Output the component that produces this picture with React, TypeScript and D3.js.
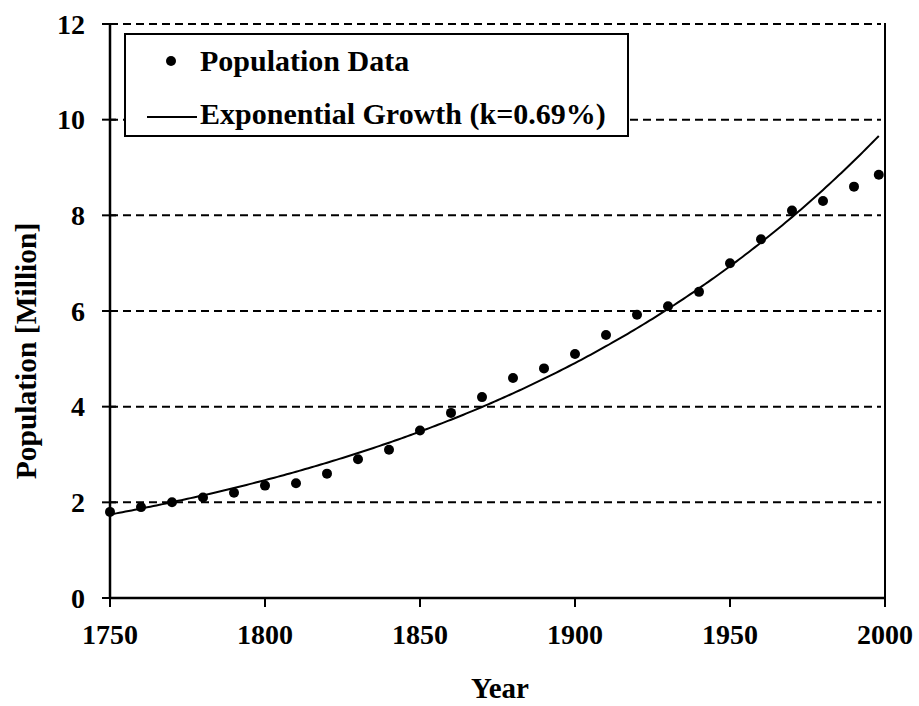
import React from "react";
import * as d3 from "d3";

const years = [1750, 1760, 1770, 1780, 1790, 1800, 1810, 1820, 1830, 1840, 1850, 1860, 1870, 1880, 1890, 1900, 1910, 1920, 1930, 1940, 1950, 1960, 1970, 1980, 1990, 1998];
const population = [1.8, 1.9, 2.0, 2.1, 2.2, 2.35, 2.4, 2.6, 2.9, 3.1, 3.5, 3.87, 4.2, 4.6, 4.8, 5.1, 5.5, 5.92, 6.1, 6.4, 7.0, 7.5, 8.1, 8.3, 8.6, 8.85];
const xTicks = [1750, 1800, 1850, 1900, 1950, 2000];
const yTicks = [0, 2, 4, 6, 8, 10, 12];
const growthRate = 0.0069;
const initialPop = 1.745;
const startYear = 1750;
const endYear = 1998;
const legendLabels = ["Population Data", "Exponential Growth (k=0.69%)"];

const W = 919, H = 706;
const L = 110, R = 885, T = 24, B = 598;
const FONT = "'Liberation Serif', 'Times New Roman', serif";

export default function App() {
  const x = d3.scaleLinear().domain([1750, 2000]).range([L, R]);
  const y = d3.scaleLinear().domain([0, 12]).range([B, T]);
  const curveYears = d3.range(startYear, endYear + 0.5, 1);
  const line = d3.line<number>().x(t => x(t)).y(t => y(initialPop * Math.exp(growthRate * (t - startYear))));

  return (
    <div style={{ position: "absolute", left: 0, top: 0 }}>
      <svg width={W} height={H} style={{ display: "block", background: "#fff" }} fontFamily={FONT} fontWeight="bold">
        {yTicks.filter(v => v > 0).map(v => (
          <line key={"g" + v} x1={L} x2={R - 4} y1={y(v)} y2={y(v)} stroke="#000" strokeWidth={2} strokeDasharray="8,5" />
        ))}
        <line x1={R} x2={R} y1={T - 1} y2={B} stroke="#000" strokeWidth={2} />
        <path d={line(curveYears) || ""} fill="none" stroke="#000" strokeWidth={2} />
        {years.map((yr, i) => (
          <circle key={yr} cx={x(yr)} cy={y(population[i])} r={5} fill="#000" />
        ))}
        <line x1={L} x2={L} y1={T} y2={B} stroke="#000" strokeWidth={2.5} />
        <line x1={L - 1} x2={R + 1} y1={B} y2={B} stroke="#000" strokeWidth={2.5} />
        {yTicks.map(v => (
          <g key={"y" + v}>
            <line x1={L - 8} x2={L + 6} y1={y(v)} y2={y(v)} stroke="#000" strokeWidth={2} />
            <text x={L - 25} y={y(v)} dy="0.35em" textAnchor="end" fontSize={28}>{v}</text>
          </g>
        ))}
        {xTicks.map(v => (
          <g key={"x" + v}>
            <line x1={x(v)} x2={x(v)} y1={B} y2={B + 9} stroke="#000" strokeWidth={2} />
            <text x={x(v)} y={B + 46} textAnchor="middle" fontSize={28}>{v}</text>
          </g>
        ))}
        <text x={500} y={698} textAnchor="middle" fontSize={29}>Year</text>
        <text transform={`translate(36, 351) rotate(-90)`} textAnchor="middle" fontSize={29.5}>Population [Million]</text>
        <rect x={125} y={34} width={503} height={102} fill="#fff" stroke="#000" strokeWidth={2} />
        <circle cx={171} cy={61} r={5} fill="#000" />
        <text x={200} y={71} fontSize={30}>{legendLabels[0]}</text>
        <line x1={147} x2={197} y1={117} y2={117} stroke="#000" strokeWidth={2} />
        <text x={200} y={124} fontSize={30}>{legendLabels[1]}</text>
      </svg>
    </div>
  );
}
